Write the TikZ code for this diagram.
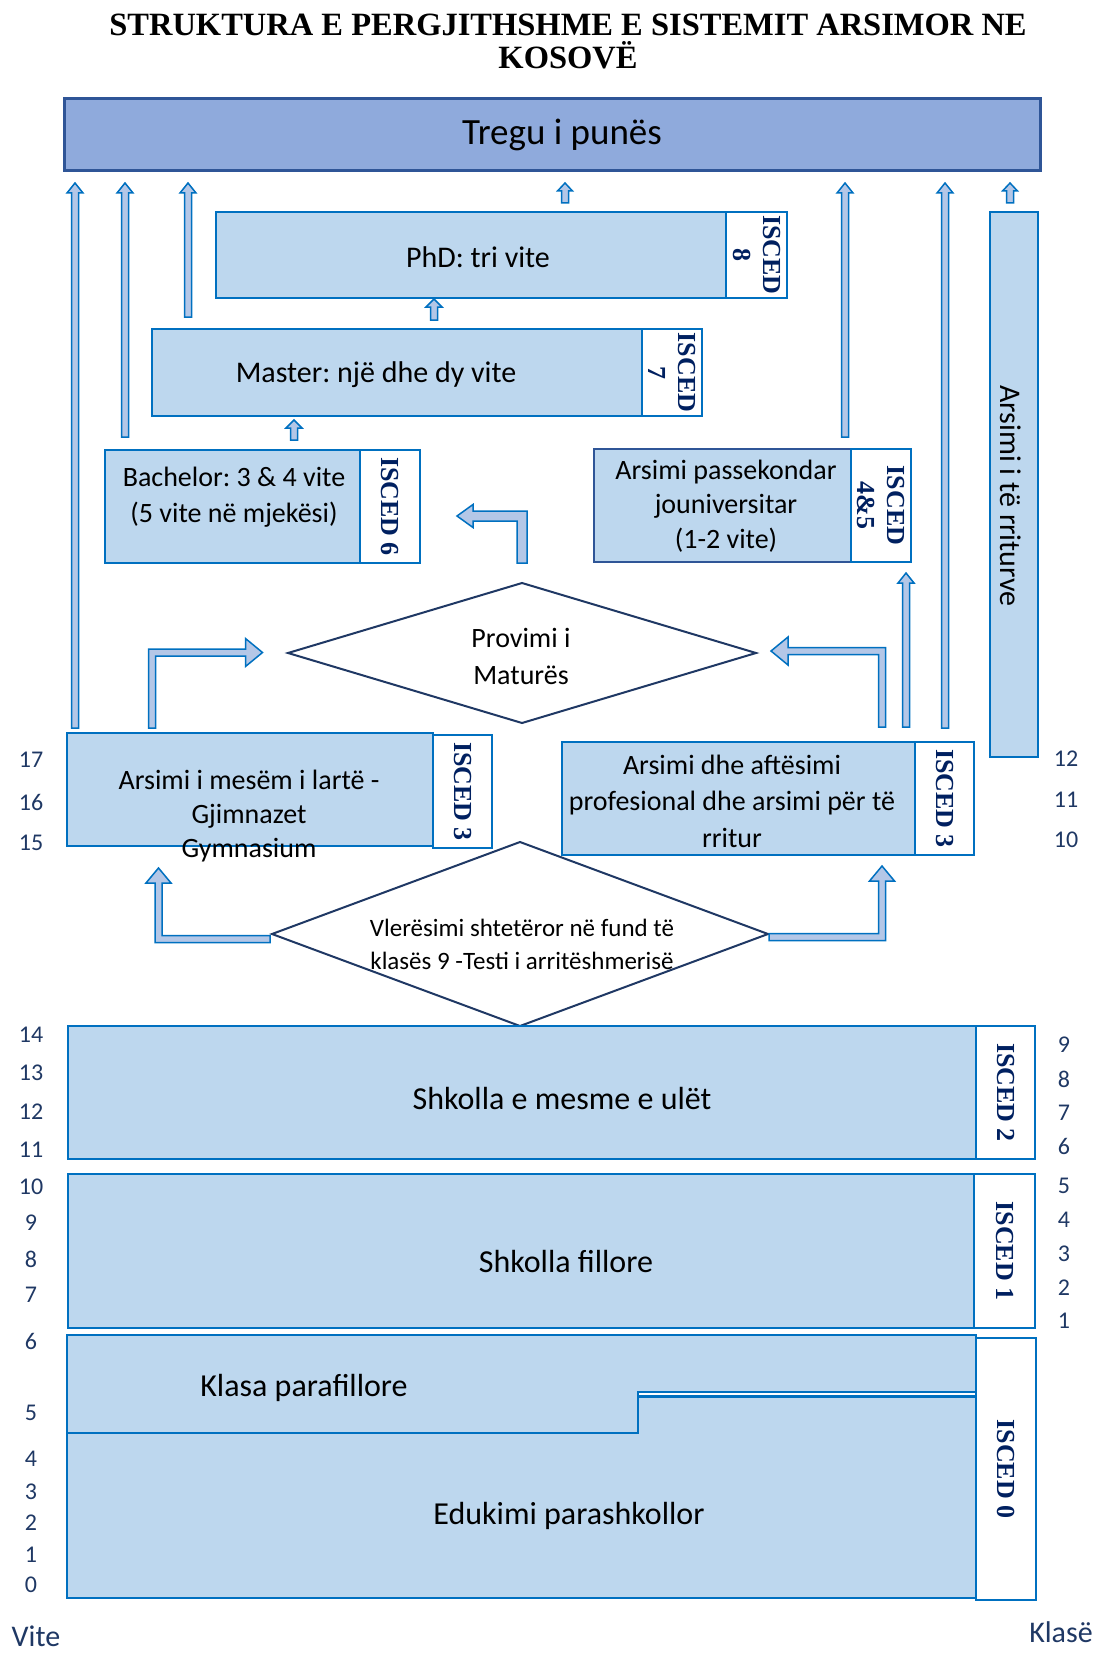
\documentclass[tikz,border=0pt]{standalone}
\usepackage{fontspec}
\setmainfont{Carlito}
\newfontfamily\tnrfont{Liberation Serif}
\usetikzlibrary{shapes.geometric}
\frenchspacing
\definecolor{boxfill}{HTML}{BDD7EE}
\definecolor{boxline}{HTML}{0070C0}
\definecolor{trfill}{HTML}{8FAADC}
\definecolor{trline}{HTML}{2F5597}
\definecolor{arrfill}{HTML}{B4C7E7}
\definecolor{arrline}{HTML}{0070C0}
\definecolor{navy}{HTML}{002060}
\definecolor{numcol}{HTML}{1F3864}
\definecolor{dline}{HTML}{1F3864}
\newcommand\fsz[2]{\fontsize{#1}{#2}\selectfont}
\tikzset{
 box/.style={rectangle, draw=boxline, fill=boxfill, line width=2.4pt, inner sep=0pt, outer sep=0pt},
 iscedbox/.style={rectangle, draw=boxline, fill=white, line width=2pt, inner sep=0pt, outer sep=0pt},
 iscedtxt/.style={rotate=-90, text=navy, font=\tnrfont\bfseries\fsz{26}{30}, align=center, inner sep=0pt},
 lbl/.style={text=black, align=center, inner sep=0pt},
 num/.style={text=numcol, font=\fsz{24}{28}, inner sep=0pt},
 blockarr/.style={fill=arrfill, draw=arrline, line width=1.5pt, line join=miter},
 dia/.style={diamond, draw=dline, fill=white, line width=2pt, inner sep=0pt, outer sep=0pt},
}
% vertical up block arrow: x, y bottom, y tip, half shaft, half head, head length
\newcommand\UpArr[6]{%
 \filldraw[blockarr] ({#1-#4},#2) -- ({#1+#4},#2) -- ({#1+#4},{#3+#6}) -- ({#1+#5},{#3+#6}) -- (#1,#3) -- ({#1-#5},{#3+#6}) -- ({#1-#4},{#3+#6}) -- cycle;}
\begin{document}
\begin{tikzpicture}[x=1pt,y=-1pt]
\useasboundingbox (0,0) rectangle (1099,1653);
% title
\node[font=\tnrfont\bfseries\fsz{32.5}{33}, align=center, inner sep=0pt] (title) at (568,41) {STRUKTURA E PERGJITHSHME E SISTEMIT ARSIMOR NE\\KOSOVË};
% labour market
\node[rectangle, draw=trline, fill=trfill, line width=3pt, minimum width=976pt, minimum height=72pt, inner sep=0pt] (tregu) at (552,135) {};
\node[lbl, font=\fsz{37}{44}] (treguT) at (562,135) {Tregu i punës};
% PhD
\node[box, minimum width=510pt, minimum height=86pt] (phd) at (471,255) {};
\node[iscedbox, minimum width=61pt, minimum height=86pt] (i8) at (756.5,255) {};
\node[iscedtxt] (i8T) at (i8) {ISCED\\8};
\node[lbl, font=\fsz{30}{36}] (phdT) at (478,257) {PhD: tri vite};
% Master
\node[box, minimum width=490pt, minimum height=87pt] (master) at (397,372.5) {};
\node[iscedbox, minimum width=60pt, minimum height=87pt] (i7) at (672,372.5) {};
\node[iscedtxt] (i7T) at (i7) {ISCED\\7};
\node[lbl, font=\fsz{30}{36}] (masterT) at (376,375) {Master: një dhe dy vite};
% Bachelor
\node[box, minimum width=255pt, minimum height=113pt] (bach) at (232.5,506.5) {};
\node[iscedbox, minimum width=60pt, minimum height=113pt] (i6) at (390,506.5) {};
\node[iscedtxt] (i6T) at (i6) {ISCED 6};
\node[lbl, font=\fsz{28}{35.5}] (bachT) at (234,497) {Bachelor: 3 \& 4 vite\\(5 vite në mjekësi)};
% post-secondary
\node[box, draw=trline, minimum width=257pt, minimum height=113pt] (pass) at (722.5,505.5) {};
\node[iscedbox, minimum width=60pt, minimum height=113pt] (i45) at (881,505.5) {};
\node[iscedtxt] (i45T) at (i45) {ISCED\\4\&5};
\node[lbl, font=\fsz{28}{34.5}] (passT) at (726,506) {Arsimi passekondar\\jouniversitar\\(1-2 vite)};
% adult education
\node[box, minimum width=48pt, minimum height=545pt] (adult) at (1014,484.5) {};
\node[lbl, rotate=-90, font=\fsz{30}{36}] (adultT) at (1011,496) {Arsimi i të rriturve};
% Matura
\node[dia, minimum width=468pt, minimum height=140pt] (mat) at (522,653) {};
\node[lbl, font=\fsz{28}{37}] (matT) at (521,656) {Provimi i\\Maturës};
% Gymnasium
\node[box, minimum width=366pt, minimum height=113pt] (gym) at (250,789.5) {};
\node[iscedbox, minimum width=59pt, minimum height=113pt] (i3a) at (462.5,791.5) {};
\node[iscedtxt] (i3aT) at (i3a) {ISCED 3};
% VET
\node[box, minimum width=353pt, minimum height=113pt] (vet) at (738.5,798.5) {};
\node[iscedbox, minimum width=59pt, minimum height=113pt] (i3b) at (944.5,798.5) {};
\node[iscedtxt] (i3bT) at (i3b) {ISCED 3};
\node[lbl, font=\fsz{28}{36.5}] (vetT) at (732,801) {Arsimi dhe aftësimi\\profesional dhe arsimi për të\\rritur};
% state assessment
\node[dia, minimum width=496pt, minimum height=184pt] (vler) at (520,934) {};
\node[lbl, font=\fsz{25}{33}] (vlerT) at (522,944) {Vlerësimi shtetëror në fund të\\klasës 9 -Testi i arritëshmerisë};
\node[lbl, font=\fsz{28}{34}] (gymT) at (249,816) {Arsimi i mesëm i lartë -\\Gjimnazet\\Gymnasium};
% lower secondary
\node[box, minimum width=908pt, minimum height=133pt] (lows) at (522,1092.5) {};
\node[iscedbox, minimum width=59pt, minimum height=133pt] (i2) at (1005.5,1092.5) {};
\node[iscedtxt] (i2T) at (i2) {ISCED 2};
\node[lbl, font=\fsz{32}{38}] (lowsT) at (562,1098) {Shkolla e mesme e ulët};
% primary
\node[box, minimum width=906pt, minimum height=154pt] (prim) at (521,1251) {};
\node[iscedbox, minimum width=61pt, minimum height=154pt] (i1) at (1004.5,1251) {};
\node[iscedtxt] (i1T) at (i1) {ISCED 1};
\node[lbl, font=\fsz{32}{38}] (primT) at (566,1261) {Shkolla fillore};
% pre-school
\filldraw[fill=boxfill, draw=boxline, line width=2.4pt] (67,1335) -- (976,1335) -- (976,1392) -- (638,1392) -- (638,1433) -- (67,1433) -- cycle;
\filldraw[fill=boxfill, draw=boxline, line width=2.4pt] (67,1433) -- (638,1433) -- (638,1396.5) -- (976,1396.5) -- (976,1598) -- (67,1598) -- cycle;
\node[iscedbox, minimum width=60pt, minimum height=262pt] (i0) at (1006,1469) {};
\node[iscedtxt] (i0T) at (i0) {ISCED 0};
\node[lbl, font=\fsz{32}{38}] (klasaT) at (304,1388) {Klasa parafillore};
\node[lbl, font=\fsz{32}{38}] (eduT) at (569,1516) {Edukimi parashkollor};
% straight arrows
\UpArr{75}{728}{183}{3.5}{8}{10}
\UpArr{125}{437}{183}{3.5}{8}{10}
\UpArr{188}{317}{183}{3.5}{8}{10}
\UpArr{565}{203}{183}{3.5}{7.5}{8}
\UpArr{845}{437}{183}{3.5}{8}{10}
\UpArr{945}{728}{183}{3.5}{8}{10}
\UpArr{1010}{203}{183}{3.5}{7.5}{8}
\UpArr{434}{320}{299}{3.5}{8}{8}
\UpArr{294}{440}{420}{3.5}{8}{8}
\UpArr{906}{727}{573}{3.5}{8}{10}
% bent arrows
\filldraw[blockarr] (517,563) -- (527,563) -- (527,511) -- (473,511) -- (473,504.5) -- (457,516) -- (473,527.5) -- (473,521) -- (517,521) -- cycle;
\filldraw[blockarr] (148.5,728) -- (155.5,728) -- (155.5,656) -- (245.5,656) -- (245.5,666.5) -- (262.5,652.5) -- (245.5,638.5) -- (245.5,649) -- (148.5,649) -- cycle;
\filldraw[blockarr] (885.5,727) -- (878.5,727) -- (878.5,654.5) -- (788,654.5) -- (788,665) -- (771,651) -- (788,637) -- (788,647.5) -- (885.5,647.5) -- cycle;
\filldraw[blockarr] (270,942.5) -- (155,942.5) -- (155,883) -- (146,883) -- (158.5,868) -- (171,883) -- (162,883) -- (162,935.5) -- (270,935.5) -- cycle;
\filldraw[blockarr] (769,940.5) -- (885.5,940.5) -- (885.5,881) -- (894.5,881) -- (882,866) -- (869.5,881) -- (878.5,881) -- (878.5,933.5) -- (769,933.5) -- cycle;
% age numbers (left)
\node[num] (l17) at (31,760) {17};
\node[num] (l16) at (31,802) {16};
\node[num] (l15) at (31,843) {15};
\node[num] (l14) at (31,1035) {14};
\node[num] (l13) at (31,1073) {13};
\node[num] (l12) at (31,1112) {12};
\node[num] (l11) at (31,1150) {11};
\node[num] (l10) at (31,1187) {10};
\node[num] (l9) at (31,1223) {9};
\node[num] (l8) at (31,1259) {8};
\node[num] (l7) at (31,1295) {7};
\node[num] (l6) at (31,1341) {6};
\node[num] (l5) at (31,1413) {5};
\node[num] (l4) at (31,1459) {4};
\node[num] (l3) at (31,1492) {3};
\node[num] (l2) at (31,1523) {2};
\node[num] (l1) at (31,1555) {1};
\node[num] (l0) at (31,1585) {0};
% grade numbers (right)
\node[num] (r12) at (1066,759) {12};
\node[num] (r11) at (1066,800) {11};
\node[num] (r10) at (1066,840) {10};
\node[num] (r9) at (1064,1045) {9};
\node[num] (r8) at (1064,1079) {8};
\node[num] (r7) at (1064,1113) {7};
\node[num] (r6) at (1064,1146) {6};
\node[num] (r5) at (1064,1186) {5};
\node[num] (r4) at (1064,1220) {4};
\node[num] (r3) at (1064,1254) {3};
\node[num] (r2) at (1064,1288) {2};
\node[num] (r1) at (1064,1321) {1};
\node[num, font=\fsz{30}{36}] (vite) at (36,1636) {Vite};
\node[num, font=\fsz{30}{36}] (klase) at (1061,1632) {Klasë};
\end{tikzpicture}
\end{document}
